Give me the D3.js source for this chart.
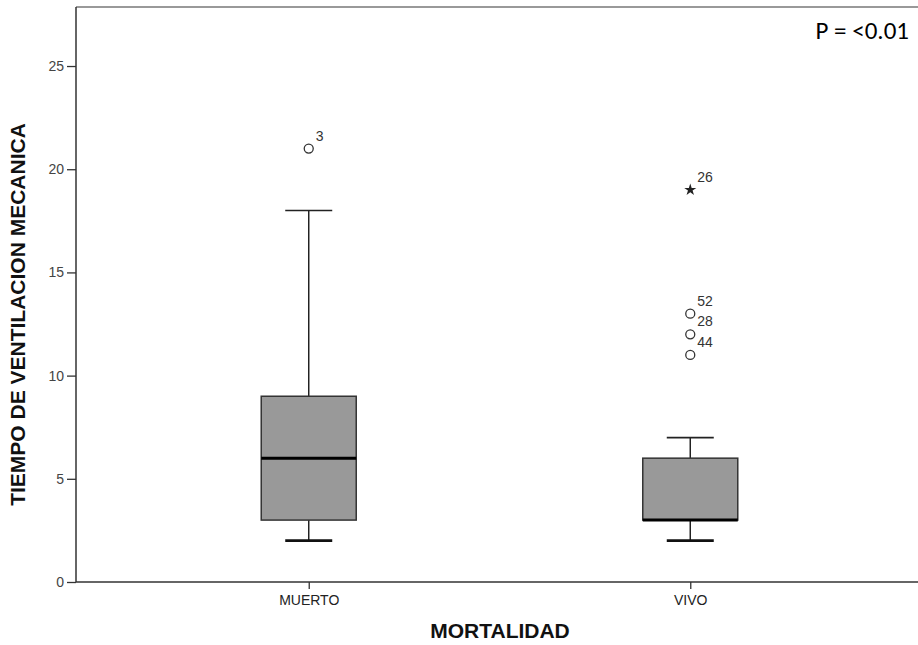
<!DOCTYPE html>
<html>
<head>
<meta charset="utf-8">
<script src="https://cdn.jsdelivr.net/npm/d3@7"></script>
<style>
  body { margin: 0; background: #fff; }
  text { font-family: "Liberation Sans", Arial, sans-serif; }
</style>
</head>
<body>
<script>
// datos
var groups = ["MUERTO", "VIVO"];
var whiskerLow = [2, 2];
var q1 = [3, 3];
var median = [6, 3];
var q3 = [9, 6];
var whiskerHigh = [18, 7];
var outlierGroup = ["MUERTO", "VIVO", "VIVO", "VIVO", "VIVO"];
var outlierValue = [21, 19, 13, 12, 11];
var outlierCase = ["3", "26", "52", "28", "44"];
var outlierType = ["o", "*", "o", "o", "o"];
var yTicks = [0, 5, 10, 15, 20, 25];

var w = 918, h = 645;
var plotLeft = 76, plotRight = 923, plotTop = 7, plotBottom = 582;

var svg = d3.select("body").append("svg")
  .attr("width", w)
  .attr("height", h);

var y = d3.scaleLinear().domain([0, 27.86]).range([plotBottom, plotTop]);
var x = d3.scalePoint().domain(groups).range([plotLeft, plotRight]).padding(0.61);

// marco superior
svg.append("line")
  .attr("x1", plotLeft).attr("x2", w)
  .attr("y1", plotTop).attr("y2", plotTop)
  .attr("stroke", "#777").attr("stroke-width", 1.5);

// eje Y
var yAxis = svg.append("g")
  .attr("transform", "translate(" + plotLeft + ",0)")
  .call(d3.axisLeft(y).tickValues(yTicks).tickSize(9).tickPadding(3).tickSizeOuter(0));
yAxis.select(".domain").attr("stroke", "#333").attr("stroke-width", 1.5)
  .attr("d", "M0," + plotBottom + "V" + plotTop);
yAxis.selectAll(".tick line").attr("stroke", "#333").attr("stroke-width", 1.3);
yAxis.selectAll(".tick text")
  .attr("font-size", 14).attr("fill", "#444")
  .style("font-family", "'Liberation Sans', Arial, sans-serif");

// eje X
var xAxis = svg.append("g")
  .attr("transform", "translate(0," + plotBottom + ")")
  .call(d3.axisBottom(x).tickSize(7).tickPadding(6).tickSizeOuter(0));
xAxis.select(".domain").attr("stroke", "#333").attr("stroke-width", 1.5)
  .attr("d", "M" + plotLeft + ",0H" + w);
xAxis.selectAll(".tick line").attr("stroke", "#333").attr("stroke-width", 1.3);
xAxis.selectAll(".tick text")
  .attr("font-size", 14).attr("fill", "#222")
  .style("font-family", "'Liberation Sans', Arial, sans-serif");

// cajas
var boxW = 95, capW = 47;
var boxes = svg.selectAll(".box")
  .data(groups)
  .enter().append("g")
  .attr("class", "box");

boxes.append("line")
  .attr("x1", function(d) { return x(d); })
  .attr("x2", function(d) { return x(d); })
  .attr("y1", function(d, i) { return y(whiskerLow[i]); })
  .attr("y2", function(d, i) { return y(q1[i]); })
  .attr("stroke", "#222").attr("stroke-width", 1.5);
boxes.append("line")
  .attr("x1", function(d) { return x(d); })
  .attr("x2", function(d) { return x(d); })
  .attr("y1", function(d, i) { return y(q3[i]); })
  .attr("y2", function(d, i) { return y(whiskerHigh[i]); })
  .attr("stroke", "#222").attr("stroke-width", 1.5);
boxes.append("line")
  .attr("x1", function(d) { return x(d) - capW / 2; })
  .attr("x2", function(d) { return x(d) + capW / 2; })
  .attr("y1", function(d, i) { return y(whiskerLow[i]); })
  .attr("y2", function(d, i) { return y(whiskerLow[i]); })
  .attr("stroke", "#111").attr("stroke-width", 2.8);
boxes.append("line")
  .attr("x1", function(d) { return x(d) - capW / 2; })
  .attr("x2", function(d) { return x(d) + capW / 2; })
  .attr("y1", function(d, i) { return y(whiskerHigh[i]); })
  .attr("y2", function(d, i) { return y(whiskerHigh[i]); })
  .attr("stroke", "#222").attr("stroke-width", 1.7);
boxes.append("rect")
  .attr("x", function(d) { return x(d) - boxW / 2; })
  .attr("width", boxW)
  .attr("y", function(d, i) { return y(q3[i]); })
  .attr("height", function(d, i) { return y(q1[i]) - y(q3[i]); })
  .attr("fill", "#999").attr("stroke", "#333").attr("stroke-width", 1.5);
boxes.append("line")
  .attr("x1", function(d) { return x(d) - boxW / 2; })
  .attr("x2", function(d) { return x(d) + boxW / 2; })
  .attr("y1", function(d, i) { return y(median[i]); })
  .attr("y2", function(d, i) { return y(median[i]); })
  .attr("stroke", "#000").attr("stroke-width", 3);

// atipicos
var outliers = outlierValue.map(function(v, i) {
  return { g: outlierGroup[i], v: v, label: outlierCase[i], t: outlierType[i] };
});
var pts = svg.selectAll(".out")
  .data(outliers)
  .enter().append("g")
  .attr("class", "out")
  .attr("transform", function(d) { return "translate(" + x(d.g) + "," + y(d.v) + ")"; });
pts.filter(function(d) { return d.t == "o"; })
  .append("circle")
  .attr("r", 4.5)
  .attr("fill", "none").attr("stroke", "#333").attr("stroke-width", 1.3);
pts.filter(function(d) { return d.t == "*"; })
  .append("path")
  .attr("d", d3.symbol().type(d3.symbolStar).size(45))
  .attr("fill", "#222");
pts.append("text")
  .attr("x", 7).attr("y", -8)
  .attr("font-size", 14).attr("fill", "#333")
  .text(function(d) { return d.label; });

// titulos
svg.append("text")
  .attr("transform", "translate(25," + ((plotTop + plotBottom) / 2 + 20) + ") rotate(-90)")
  .attr("text-anchor", "middle")
  .attr("font-size", 21).attr("font-weight", "bold").attr("fill", "#111")
  .text("TIEMPO DE VENTILACION MECANICA");

svg.append("text")
  .attr("x", 500).attr("y", 638)
  .attr("text-anchor", "middle")
  .attr("font-size", 21).attr("font-weight", "bold").attr("fill", "#111")
  .text("MORTALIDAD");

svg.append("text")
  .attr("x", 909).attr("y", 39)
  .attr("text-anchor", "end")
  .attr("font-size", 25).attr("fill", "#000")
  .style("font-family", "Carlito, Calibri, Lato, sans-serif")
  .text("P = <0.01");
</script>
</body>
</html>
